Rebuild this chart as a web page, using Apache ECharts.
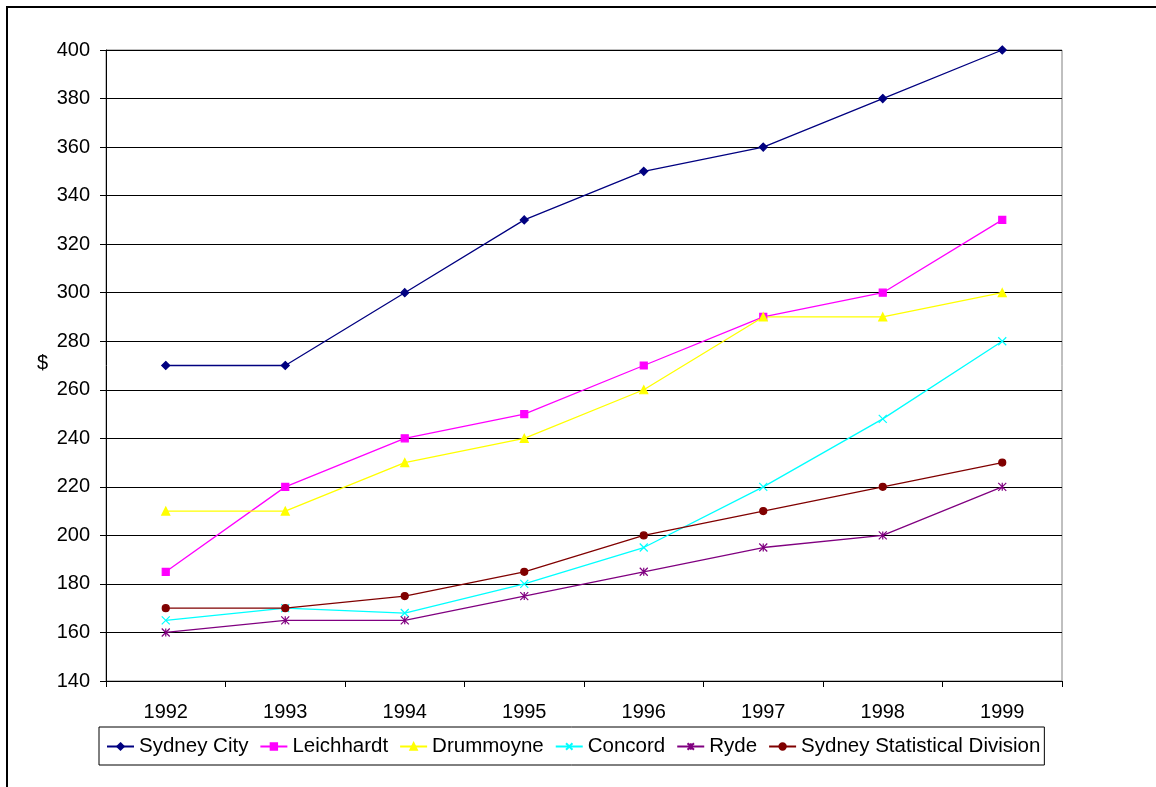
<!DOCTYPE html>
<html>
<head>
<meta charset="utf-8">
<script src="https://cdn.jsdelivr.net/npm/echarts@6/dist/echarts.min.js"></script>
<style>
  html, body { margin: 0; padding: 0; background: #fff; }
  #chart { width: 1156px; height: 787px; }
</style>
</head>
<body>
<div id="chart"></div>
<script>
const years = ['1992', '1993', '1994', '1995', '1996', '1997', '1998', '1999'];
const sydneyCity = [270, 270, 300, 330, 350, 360, 380, 400];
const leichhardt = [185, 220, 240, 250, 270, 290, 300, 330];
const drummoyne = [210, 210, 230, 240, 260, 290, 290, 300];
const concord = [165, 170, 168, 180, 195, 220, 248, 280];
const ryde = [160, 165, 165, 175, 185, 195, 200, 220];
const sydneySD = [170, 170, 175, 185, 200, 210, 220, 230];

const FONT = 'Liberation Sans, Arial, sans-serif';
const crossPath = 'path://M0,0L10,10M10,0L0,10';
const starPath = 'path://M0,0L10,10M10,0L0,10M5,0L5,10';

const mk = (name, data, color, symbol, size) => ({
  name: name,
  type: 'line',
  data: data,
  symbol: symbol,
  symbolSize: size,
  showAllSymbol: true,
  lineStyle: { color: color, width: 1.3 },
  itemStyle: { color: color, borderColor: color, borderWidth: 1.2 },
  emphasis: { disabled: true },
  animation: false
});

const chart = echarts.init(document.getElementById('chart'));
chart.setOption({
  animation: false,
  textStyle: { fontFamily: FONT },
  graphic: [
    { type: 'rect', shape: { x: 7, y: 7, width: 1160, height: 800 },
      style: { fill: 'none', stroke: '#000', lineWidth: 2 }, z: 0 },
    { type: 'text', left: 37, top: 353,
      style: { text: '$', fontSize: 20, fontFamily: FONT, fill: '#000' } }
  ],
  grid: {
    left: 106, top: 50, right: 94, bottom: 106,
    show: true, borderColor: '#808080', borderWidth: 1, backgroundColor: 'transparent'
  },
  legend: {
    left: 99, top: 727,
    width: 1000,
    padding: [9, 4, 8, 7],
    borderColor: '#000', borderWidth: 1,
    itemWidth: 27, itemHeight: 8, itemGap: 11,
    textStyle: { fontSize: 20.5, color: '#000', fontFamily: FONT },
    data: ['Sydney City', 'Leichhardt', 'Drummoyne', 'Concord', 'Ryde', 'Sydney Statistical Division']
  },
  xAxis: {
    type: 'category',
    data: years,
    boundaryGap: true,
    axisLine: { lineStyle: { color: '#000', width: 1 } },
    axisTick: { show: true, interval: 0, length: 6, lineStyle: { color: '#000' } },
    axisLabel: { fontSize: 20, color: '#000', margin: 21, fontFamily: FONT },
    splitLine: { show: false }
  },
  yAxis: {
    type: 'value',
    min: 140, max: 400, interval: 20,
    axisLine: { show: true, lineStyle: { color: '#000', width: 1 } },
    axisTick: { show: true, length: 6, lineStyle: { color: '#000' } },
    axisLabel: { fontSize: 20, color: '#000', margin: 16, fontFamily: FONT },
    splitLine: { show: true, lineStyle: { color: '#000', width: 1 } }
  },
  series: [
    mk('Sydney City', sydneyCity, '#000080', 'diamond', 8),
    mk('Leichhardt', leichhardt, '#FF00FF', 'rect', 7),
    mk('Drummoyne', drummoyne, '#FFFF00', 'triangle', 8),
    mk('Concord', concord, '#00FFFF', crossPath, 8),
    mk('Ryde', ryde, '#800080', starPath, 8),
    mk('Sydney Statistical Division', sydneySD, '#800000', 'circle', 7)
  ]
});
</script>
</body>
</html>
